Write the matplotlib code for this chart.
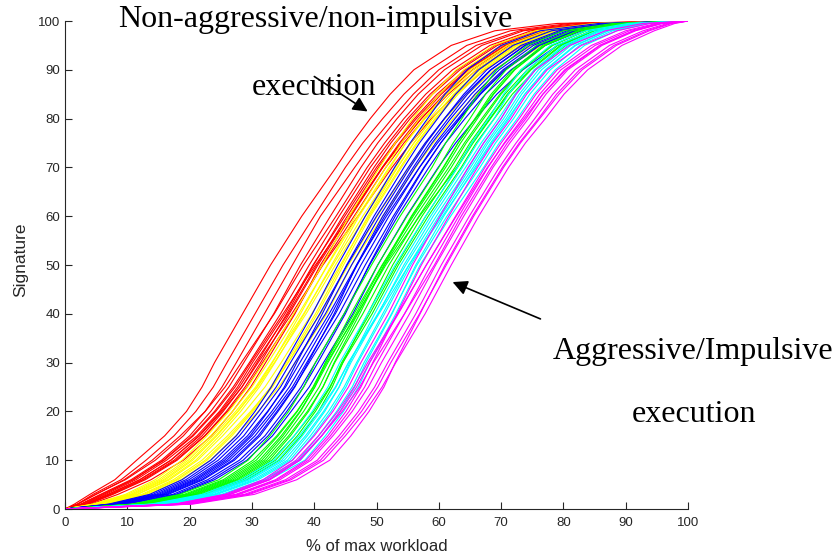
import matplotlib
matplotlib.use('Agg')
import matplotlib.pyplot as plt

# signature levels (y) and the workload % (x) at which each curve reaches them
levels = [0, 1, 3, 6, 10, 15, 20, 25, 30, 40, 50, 60, 70, 75, 80, 85, 90, 95, 98, 99.5, 100]

red_curves = [
    [0, 1.5, 4.0, 8.0, 11.5, 16.0, 19.5, 22.0, 24.0, 28.5, 33.0, 38.0, 43.5, 46.1, 49.0, 52.2, 56.0, 62.0, 69.0, 79.0, 100],
    [0, 2.0, 4.5, 9.0, 13.0, 17.5, 21.0, 23.8, 26.0, 30.5, 35.0, 40.0, 45.0, 47.8, 51.0, 54.4, 58.5, 64.5, 71.5, 81.0, 100],
    [0, 2.0, 5.0, 9.5, 14.0, 18.5, 22.5, 25.2, 27.5, 32.0, 36.5, 41.0, 46.5, 49.3, 52.5, 55.9, 60.0, 66.0, 73.0, 82.0, 100],
    [0, 2.0, 4.9, 9.7, 14.5, 19.0, 22.5, 25.7, 28.3, 33.6, 38.3, 43.5, 48.5, 51.3, 54.4, 57.9, 62.2, 68.2, 74.8, 84.2, 100],
    [0, 2.5, 5.7, 10.6, 15.5, 20.0, 23.4, 26.3, 28.7, 33.5, 37.8, 42.6, 47.5, 50.2, 53.3, 56.7, 60.9, 66.9, 73.6, 83.4, 100],
    [0, 3.0, 6.5, 11.4, 16.3, 21.2, 24.8, 27.7, 30.1, 35.3, 39.8, 44.9, 50.0, 52.9, 56.1, 59.7, 64.2, 70.2, 76.6, 85.4, 100],
    [0, 3.5, 7.3, 12.4, 17.5, 22.0, 25.4, 28.4, 30.8, 35.6, 39.9, 44.6, 49.6, 52.3, 55.4, 59.0, 63.4, 69.4, 75.9, 84.9, 100],
    [0, 3.8, 7.7, 12.9, 18.0, 22.5, 26.1, 29.2, 31.7, 36.8, 41.3, 46.4, 51.5, 54.4, 57.7, 61.5, 66.1, 72.1, 78.4, 86.6, 100],
    [0, 4.2, 8.5, 13.8, 19.0, 23.5, 26.9, 29.8, 32.2, 36.9, 41.0, 45.9, 51.0, 53.9, 57.2, 61.0, 65.5, 71.5, 77.8, 86.2, 100],
    [0, 3.2, 6.9, 12.0, 17.0, 21.6, 25.2, 28.4, 31.0, 36.4, 41.4, 47.0, 52.5, 55.5, 58.8, 62.7, 67.4, 73.4, 79.6, 87.4, 100],
    [0, 3.3, 7.0, 12.0, 17.0, 21.5, 25.0, 28.0, 30.5, 35.8, 40.4, 45.3, 50.3, 53.1, 56.4, 60.1, 64.6, 70.6, 77.0, 85.6, 100],
    [0, 2.8, 6.2, 11.0, 15.8, 20.4, 24.0, 27.0, 29.6, 34.6, 39.2, 44.0, 49.0, 51.9, 55.0, 58.6, 63.0, 69.0, 75.5, 84.6, 100],
    [0, 3.6, 7.5, 12.6, 17.8, 22.4, 25.9, 28.9, 31.4, 36.0, 40.6, 45.6, 51.0, 54.0, 57.2, 60.9, 65.4, 71.3, 77.6, 85.9, 100],
    [0, 2.6, 5.9, 10.9, 15.9, 20.6, 24.2, 27.3, 29.8, 35.0, 40.2, 45.7, 50.9, 53.7, 56.8, 60.4, 64.8, 70.8, 77.2, 85.7, 100],
]

yellow_curves = [
    [0, 4.4, 9.7, 14.5, 18.8, 22.8, 26.3, 29.3, 31.9, 36.7, 41.3, 45.6, 50.5, 53.0, 55.8, 59.0, 62.8, 68.8, 75.5, 85.0, 100],
    [0, 4.9, 10.5, 15.4, 19.8, 23.8, 27.4, 30.6, 33.2, 38.3, 43.0, 47.8, 53.0, 55.5, 58.5, 61.9, 66.0, 72.0, 78.5, 87.0, 100],
    [0, 5.3, 11.1, 16.1, 20.5, 24.4, 27.8, 30.8, 33.3, 37.8, 42.1, 46.6, 51.5, 54.0, 56.9, 60.1, 64.0, 70.0, 76.7, 85.8, 100],
    [0, 5.7, 11.7, 16.8, 21.3, 25.3, 28.9, 32.1, 34.7, 39.6, 44.2, 48.8, 53.8, 56.4, 59.4, 62.8, 67.0, 73.0, 79.5, 87.6, 100],
    [0, 6.0, 12.3, 17.4, 22.0, 26.1, 29.8, 33.1, 35.8, 41.0, 45.5, 50.1, 55.2, 57.9, 61.0, 64.6, 68.9, 74.9, 81.1, 88.8, 100],
    [0, 6.4, 12.9, 18.1, 22.8, 26.8, 30.2, 33.3, 35.8, 40.5, 44.7, 49.0, 54.0, 56.6, 59.6, 63.1, 67.3, 73.3, 79.7, 87.8, 100],
    [0, 6.7, 13.3, 18.6, 23.3, 27.4, 31.0, 34.3, 37.0, 42.0, 46.0, 51.0, 56.3, 59.1, 62.3, 66.0, 70.5, 76.5, 82.7, 89.8, 100],
    [0, 5.5, 11.5, 16.5, 21.0, 24.8, 28.2, 31.2, 33.7, 38.4, 42.8, 47.2, 52.2, 54.7, 57.6, 61.0, 65.0, 71.0, 77.5, 86.4, 100],
    [0, 5.1, 10.8, 15.8, 20.2, 24.2, 27.7, 30.9, 33.6, 38.7, 43.4, 48.2, 53.3, 56.0, 59.0, 62.4, 66.6, 72.6, 79.0, 87.2, 100],
    [0, 6.2, 12.6, 17.8, 22.5, 26.5, 30.0, 33.0, 35.5, 40.2, 44.4, 48.6, 53.4, 56.0, 59.0, 62.4, 66.4, 72.4, 78.9, 87.3, 100],
    [0, 4.7, 10.1, 15.0, 19.4, 23.4, 26.9, 30.0, 32.6, 37.5, 42.2, 47.0, 52.0, 54.7, 57.8, 61.3, 65.5, 71.5, 78.0, 86.7, 100],
]

blue_curves = [
    [0, 7.0, 13.6, 18.8, 23.4, 27.5, 30.5, 33.1, 35.3, 39.7, 43.8, 48.2, 52.9, 55.4, 58.2, 61.0, 64.5, 70.0, 76.3, 85.7, 100],
    [0, 7.6, 14.6, 19.9, 24.6, 28.7, 31.7, 34.6, 36.9, 41.8, 46.0, 50.5, 55.4, 58.0, 60.9, 64.0, 67.7, 73.2, 79.3, 87.7, 100],
    [0, 8.1, 15.4, 20.8, 25.6, 29.7, 32.6, 35.2, 37.2, 41.3, 45.2, 49.6, 54.4, 56.9, 59.8, 62.7, 66.4, 71.9, 78.1, 86.9, 100],
    [0, 8.5, 16.0, 21.5, 26.4, 30.5, 33.6, 36.5, 38.8, 43.4, 47.5, 52.0, 56.9, 59.5, 62.6, 65.8, 69.7, 75.2, 81.1, 88.9, 100],
    [0, 8.9, 16.6, 22.2, 27.2, 31.3, 34.2, 36.9, 39.0, 43.2, 46.8, 51.0, 55.9, 58.5, 61.5, 64.6, 68.4, 73.9, 79.9, 88.1, 100],
    [0, 9.3, 17.3, 22.9, 28.0, 32.1, 35.1, 37.9, 40.2, 44.8, 48.9, 53.4, 58.4, 61.1, 64.2, 67.5, 71.6, 77.1, 82.9, 90.1, 100],
    [0, 9.9, 18.2, 24.0, 29.2, 33.3, 36.3, 39.2, 41.5, 46.2, 50.2, 54.8, 59.9, 62.7, 65.9, 69.3, 73.5, 79.0, 84.7, 91.3, 100],
    [0, 7.9, 15.0, 20.4, 25.2, 29.3, 32.5, 35.4, 37.7, 42.4, 46.8, 51.6, 56.9, 59.8, 63.1, 66.3, 70.3, 75.8, 81.7, 89.3, 100],
    [0, 8.3, 15.7, 21.1, 26.0, 30.0, 33.2, 36.0, 38.3, 42.8, 46.9, 51.3, 56.2, 58.9, 61.9, 65.2, 69.1, 74.6, 80.6, 88.5, 100],
    [0, 8.7, 16.3, 21.9, 26.9, 31.0, 34.0, 36.8, 39.2, 44.0, 48.2, 52.7, 57.6, 60.3, 63.4, 66.7, 70.7, 76.2, 82.0, 89.5, 100],
    [0, 7.3, 14.1, 19.4, 24.0, 28.0, 31.1, 33.9, 36.2, 40.9, 45.3, 50.0, 55.1, 57.8, 60.9, 64.3, 68.3, 73.8, 79.9, 88.0, 100],
    [0, 9.6, 17.8, 23.5, 28.6, 32.6, 35.6, 38.3, 40.6, 45.0, 48.8, 53.0, 57.7, 60.3, 63.3, 66.6, 70.6, 76.0, 81.9, 89.6, 100],
]

green_curves = [
    [0, 10.7, 18.4, 24.7, 29.4, 32.9, 35.9, 38.3, 40.2, 44.8, 49.2, 53.8, 58.9, 61.1, 63.7, 66.3, 69.3, 74.2, 80.0, 88.0, 100],
    [0, 11.4, 19.5, 25.8, 30.7, 34.2, 37.3, 39.8, 41.8, 46.4, 50.9, 55.9, 61.1, 63.5, 66.2, 68.8, 72.2, 77.1, 82.6, 89.8, 100],
    [0, 11.8, 20.2, 26.6, 31.6, 35.0, 37.8, 40.1, 41.8, 45.9, 50.2, 54.9, 60.0, 62.3, 65.0, 67.5, 70.8, 75.7, 81.3, 88.9, 100],
    [0, 12.2, 20.8, 27.4, 32.4, 35.9, 38.9, 41.4, 43.3, 47.8, 52.0, 56.8, 62.0, 64.4, 67.2, 70.0, 73.4, 78.3, 83.7, 90.5, 100],
    [0, 12.6, 21.5, 28.1, 33.2, 36.8, 39.9, 42.5, 44.6, 49.3, 53.5, 58.3, 63.6, 66.0, 68.9, 71.8, 75.5, 80.4, 85.6, 91.8, 100],
    [0, 13.2, 22.4, 29.2, 34.4, 37.9, 40.7, 42.9, 44.6, 48.6, 52.6, 57.3, 62.6, 65.0, 67.8, 70.6, 74.2, 79.1, 84.4, 91.0, 100],
    [0, 11.1, 19.1, 25.4, 30.2, 34.0, 37.2, 39.9, 42.0, 46.9, 51.5, 56.9, 62.9, 65.3, 68.2, 71.0, 74.6, 79.5, 84.8, 91.2, 100],
    [0, 12.4, 21.1, 27.7, 32.8, 36.2, 39.1, 41.4, 43.2, 47.3, 51.2, 55.7, 60.8, 63.1, 65.8, 68.4, 71.8, 76.7, 82.3, 89.5, 100],
    [0, 11.6, 19.8, 26.2, 31.2, 34.7, 37.7, 40.1, 42.2, 46.7, 51.0, 55.6, 60.7, 63.1, 65.9, 68.7, 72.1, 77.0, 82.5, 89.7, 100],
    [0, 12.9, 21.9, 28.6, 33.8, 37.3, 40.2, 42.6, 44.4, 48.9, 53.2, 57.9, 63.0, 65.5, 68.3, 71.2, 74.8, 79.7, 85.0, 91.4, 100],
    [0, 12.0, 20.5, 27.0, 32.0, 35.4, 38.3, 40.8, 42.7, 47.0, 51.3, 56.3, 61.6, 64.1, 66.9, 69.8, 73.2, 78.1, 83.4, 90.3, 100],
]

cyan_curves = [
    [0, 13.8, 22.0, 28.3, 33.5, 36.8, 39.7, 42.2, 44.1, 48.6, 53.0, 57.9, 63.0, 65.3, 68.0, 70.4, 73.2, 77.9, 83.6, 90.4, 100],
    [0, 14.4, 23.0, 29.4, 34.8, 38.1, 41.0, 43.5, 45.5, 50.2, 54.7, 59.6, 64.8, 67.2, 70.0, 72.4, 75.5, 80.2, 85.8, 91.8, 100],
    [0, 14.8, 23.8, 30.2, 35.7, 38.9, 41.7, 44.0, 45.7, 49.7, 53.9, 58.7, 63.8, 66.2, 68.9, 71.2, 74.2, 78.9, 84.6, 91.0, 100],
    [0, 15.3, 24.4, 31.0, 36.5, 39.8, 42.7, 45.1, 47.0, 51.3, 55.5, 60.3, 65.5, 67.9, 70.8, 73.3, 76.5, 81.2, 86.6, 92.4, 100],
    [0, 15.7, 25.1, 31.8, 37.4, 40.7, 43.6, 46.1, 48.0, 52.4, 56.5, 61.3, 66.6, 69.1, 72.0, 74.6, 77.9, 82.6, 87.9, 93.3, 100],
    [0, 16.3, 26.0, 32.8, 38.5, 41.8, 44.7, 47.1, 48.9, 53.1, 57.0, 61.9, 67.2, 69.7, 72.6, 75.3, 78.7, 83.4, 88.6, 93.8, 100],
    [0, 14.1, 22.6, 28.9, 34.2, 37.6, 40.7, 43.4, 45.5, 50.4, 55.2, 60.6, 66.0, 68.5, 71.3, 73.8, 77.1, 81.8, 87.2, 92.8, 100],
    [0, 15.0, 24.1, 30.6, 36.1, 39.4, 42.3, 44.8, 46.8, 51.0, 55.2, 60.0, 65.1, 67.6, 70.4, 72.9, 76.0, 80.7, 86.2, 92.1, 100],
    [0, 15.9, 25.5, 32.2, 37.8, 41.2, 44.1, 46.5, 48.3, 52.5, 56.3, 60.8, 65.8, 68.3, 71.1, 73.8, 77.2, 82.0, 87.3, 93.0, 100],
    [0, 14.6, 23.3, 29.7, 35.2, 38.6, 41.5, 44.0, 45.9, 50.3, 54.4, 59.1, 64.3, 66.8, 69.6, 72.2, 75.3, 80.0, 85.5, 91.6, 100],
]

magenta_curves = [
    [0, 17.5, 25.6, 31.8, 36.5, 40.0, 43.0, 45.5, 47.5, 51.9, 55.8, 60.2, 64.7, 67.2, 70.0, 72.4, 75.5, 81.0, 86.8, 92.7, 100],
    [0, 18.1, 26.6, 32.9, 37.7, 41.2, 44.2, 46.8, 48.9, 53.5, 58.0, 62.7, 67.4, 70.0, 72.9, 75.6, 79.0, 84.5, 90.0, 94.9, 100],
    [0, 18.6, 27.4, 33.8, 38.7, 42.2, 45.1, 47.5, 49.4, 53.3, 57.2, 61.6, 66.2, 68.7, 71.6, 74.1, 77.4, 82.9, 88.6, 93.9, 100],
    [0, 19.0, 28.0, 34.5, 39.5, 43.0, 46.1, 48.7, 50.8, 55.3, 59.5, 64.0, 68.7, 71.4, 74.4, 77.2, 80.7, 86.2, 91.6, 95.9, 100],
    [0, 19.5, 28.8, 35.4, 40.5, 44.0, 47.1, 49.7, 51.8, 56.3, 60.4, 64.9, 69.7, 72.4, 75.4, 78.3, 81.9, 87.4, 92.8, 96.7, 100],
    [0, 20.0, 29.6, 36.3, 41.5, 45.0, 48.2, 50.9, 53.1, 57.8, 62.0, 66.4, 71.2, 73.9, 77.1, 80.1, 83.9, 89.4, 94.6, 97.9, 100],
    [0, 20.5, 30.4, 37.2, 42.5, 45.9, 48.8, 51.2, 53.0, 57.0, 61.0, 65.4, 70.2, 72.9, 76.0, 78.9, 82.6, 88.1, 93.4, 97.1, 100],
    [0, 18.0, 26.4, 32.7, 37.5, 41.2, 44.5, 47.3, 49.5, 54.5, 59.3, 63.6, 68.4, 71.0, 74.0, 76.7, 80.2, 85.8, 91.2, 95.6, 100],
    [0, 18.8, 27.7, 34.1, 39.1, 42.6, 45.6, 48.1, 50.1, 54.5, 58.7, 63.2, 67.9, 70.5, 73.4, 76.2, 79.6, 85.1, 90.6, 95.3, 100],
    [0, 19.8, 29.2, 35.9, 41.0, 44.5, 47.6, 50.2, 52.3, 56.9, 61.2, 65.6, 70.4, 73.1, 76.2, 79.3, 83.0, 88.5, 93.8, 97.4, 100],
    [0, 17.8, 26.0, 32.3, 37.1, 40.7, 43.8, 46.4, 48.6, 53.4, 58.0, 62.8, 67.8, 70.6, 73.7, 76.7, 80.4, 85.9, 91.3, 95.7, 100],
]

groups = [
    (red_curves, '#ff0000'),
    (yellow_curves, '#ffff00'),
    (blue_curves, '#0000ff'),
    (green_curves, '#00ff00'),
    (cyan_curves, '#00ffff'),
    (magenta_curves, '#ff00ff'),
]

W, H = 840, 558
fig = plt.figure(figsize=(W / 100, H / 100), dpi=100)
ax = fig.add_axes([65 / W, 1 - 509 / H, (688 - 65) / W, (509 - 21) / H])

for curves, color in groups:
    for xs in curves:
        ax.plot(xs, levels, color=color, lw=0.8)

axis_col = '#262626'
ax.set_xlim(0, 100)
ax.set_ylim(0, 100)
ax.set_xticks(range(0, 101, 10))
ax.set_yticks(range(0, 101, 10))
ax.spines['right'].set_visible(False)
ax.spines['top'].set_visible(False)
for s in ('left', 'bottom'):
    ax.spines[s].set_color(axis_col)
    ax.spines[s].set_linewidth(0.8)
ax.tick_params(direction='in', length=5, width=0.8, color=axis_col,
               labelcolor=axis_col, labelsize=9.5)
ax.tick_params(axis='x', pad=6)
for lab in ax.get_xticklabels() + ax.get_yticklabels():
    lab.set_family('Liberation Sans')
ax.set_xlabel('% of max workload', fontsize=12, color=axis_col, family='Liberation Sans')
ax.set_ylabel('Signature', fontsize=12.5, color=axis_col, family='Liberation Sans')
ax.xaxis.set_label_coords(0.5, -0.061)
ax.yaxis.set_label_coords(-0.059, 0.51)

serif = dict(family='Liberation Serif', fontsize=23, color='black')
fig.text(118 / W, 1 - 20 / H, 'Non-aggressive/non-impulsive', ha='left', va='center', **serif)
fig.text(252 / W, 1 - 88 / H, 'execution', ha='left', va='center', **serif)
fig.text(553 / W, 1 - 351 / H, 'Aggressive/Impulsive', ha='left', va='center', **serif)
fig.text(632 / W, 1 - 414 / H, 'execution', ha='left', va='center', **serif)

arrow = dict(arrowstyle='-|>', color='black', lw=1.2, mutation_scale=22)
ax.annotate('', xy=(370 / W, 1 - 113 / H), xytext=(312 / W, 1 - 75 / H),
            xycoords='figure fraction', textcoords='figure fraction', arrowprops=arrow)
ax.annotate('', xy=(450 / W, 1 - 281 / H), xytext=(543 / W, 1 - 320 / H),
            xycoords='figure fraction', textcoords='figure fraction', arrowprops=arrow)

fig.savefig('out.png', dpi=100)
